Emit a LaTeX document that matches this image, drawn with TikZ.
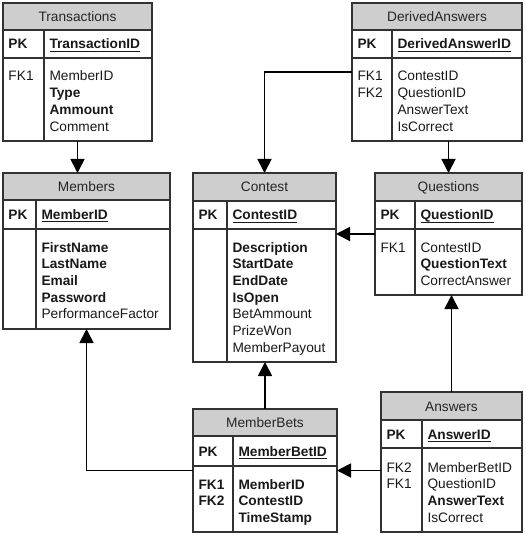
\documentclass[tikz,border=0pt]{standalone}
\usepackage{fontspec}
\setmainfont{Liberation Sans}
\usetikzlibrary{arrows.meta}
\definecolor{headgray}{RGB}{206,206,206}
\definecolor{linegray}{RGB}{50,50,50}
\tikzset{
  tableframe/.style={draw=linegray, line width=1.2pt, inner sep=0pt, outer sep=0pt, anchor=north west},
  tablerule/.style={draw=linegray, line width=1.2pt},
  txt/.style={inner sep=0pt, outer sep=0pt, anchor=base west, font=\fontsize{13.7}{16.7}\selectfont, text=black!90},
  boldtxt/.style={txt, font=\fontsize{13.7}{16.7}\selectfont\bfseries},
  ttl/.style={inner sep=0pt, anchor=base, font=\fontsize{13.7}{16.7}\selectfont, text=black!85},
  keyline/.style={draw=black!90, line width=0.9pt},
  conn/.style={draw=black, line width=1.7pt, -{Triangle[length=14pt,width=14pt]}},
}
% name, x1, x2, xdiv, ytop, yhead, ypk, ybot
\newcommand\ertable[8]{%
  \fill[headgray] (#2,#5) rectangle (#3,#6);
  \node[tableframe, minimum width={(#3-#2)*1pt}, minimum height={(#8-#5)*1pt}] (#1) at (#2,#5) {};
  \draw[tablerule] (#2,#6) -- (#3,#6) (#2,#7) -- (#3,#7) (#4,#6) -- (#4,#8);
}
\newcommand\bodylines[4]{%
  \foreach \t [count=\i] in {#4} {\node[txt] (#1-\i) at (#2,{#3+(\i-1)*16.7}) {\t};}%
}
\newcommand\keynode[4]{%
  \node[boldtxt] (#1) at (#2,#3) {#4};
  \draw[keyline] ([yshift=-2.4pt]#1.base west) -- ([yshift=-2.4pt]#1.base east);
}
\begin{document}
\begin{tikzpicture}[x=1pt,y=-1pt]
\useasboundingbox (0,0) rectangle (525,534);

% Transactions
\ertable{trans}{3}{152}{44}{3}{30}{58}{141}
\node[ttl] (trans-t) at (77.5,21.5) {Transactions};
\node[boldtxt] (trans-pk) at (8.5,49) {PK};
\keynode{trans-k}{49.5}{49}{TransactionID}
\bodylines{trans-l}{8.5}{81}{FK1}
\bodylines{trans-r}{49.5}{81}{MemberID,\textbf{Type},\textbf{Ammount},Comment}

% DerivedAnswers
\ertable{da}{352}{522}{392}{3}{30}{58}{141}
\node[ttl] (da-t) at (437,21.5) {DerivedAnswers};
\node[boldtxt] (da-pk) at (357.5,49) {PK};
\keynode{da-k}{397.5}{49}{DerivedAnswerID}
\bodylines{da-l}{357.5}{81}{FK1,FK2}
\bodylines{da-r}{397.5}{81}{ContestID,QuestionID,AnswerText,IsCorrect}

% Members
\ertable{mem}{3}{170}{36}{173}{200}{229}{329}
\node[ttl] (mem-t) at (86.5,191.5) {Members};
\node[boldtxt] (mem-pk) at (8.5,219.5) {PK};
\keynode{mem-k}{41.5}{219.5}{MemberID}
\bodylines{mem-r}{41.5}{252}{\textbf{FirstName},\textbf{LastName},\textbf{Email},\textbf{Password},PerformanceFactor}

% Contest
\ertable{con}{193}{336}{227}{173}{201}{229}{362}
\node[ttl] (con-t) at (264.5,192) {Contest};
\node[boldtxt] (con-pk) at (198.5,220) {PK};
\keynode{con-k}{232.5}{220}{ContestID}
\bodylines{con-r}{232.5}{252}{\textbf{Description},\textbf{StartDate},\textbf{EndDate},\textbf{IsOpen},BetAmmount,PrizeWon,MemberPayout}

% Questions
\ertable{que}{375}{522}{415}{173}{201}{229}{295}
\node[ttl] (que-t) at (448.5,192) {Questions};
\node[boldtxt] (que-pk) at (380.5,220) {PK};
\keynode{que-k}{420.5}{220}{QuestionID}
\bodylines{que-l}{380.5}{252}{FK1}
\bodylines{que-r}{420.5}{252}{ContestID,\textbf{QuestionText},CorrectAnswer}

% MemberBets
\ertable{mb}{193}{337}{233}{409}{436}{466}{532}
\node[ttl] (mb-t) at (265,427.5) {MemberBets};
\node[boldtxt] (mb-pk) at (198.5,456) {PK};
\keynode{mb-k}{238.5}{456}{MemberBetID}
\bodylines{mb-l}{198.5}{489}{\textbf{FK1},\textbf{FK2}}
\bodylines{mb-r}{238.5}{489}{\textbf{MemberID},\textbf{ContestID},\textbf{TimeStamp}}

% Answers
\ertable{ans}{381}{522}{422}{392}{420}{448}{532}
\node[ttl] (ans-t) at (451.5,411) {Answers};
\node[boldtxt] (ans-pk) at (386.5,439) {PK};
\keynode{ans-k}{427.5}{439}{AnswerID}
\bodylines{ans-l}{386.5}{472}{FK2,FK1}
\bodylines{ans-r}{427.5}{472}{MemberBetID,QuestionID,\textbf{AnswerText},IsCorrect}

% Connectors
\draw[conn] (trans.south) -- (trans.south |- mem.north);
\draw[conn] (da.west) -| (con.north);
\draw[conn] (da.south -| que.north) -- (que.north);
\draw[conn] (que.west) -- (que.west -| con.east);
\draw[conn] (ans.north) -- (ans.north |- que.south);
\draw[conn] (mb.north) -- (mb.north |- con.south);
\draw[conn] (mb.east -| ans.west) -- (mb.east);
\draw[conn] (mb.west) -| (mem.south);
\end{tikzpicture}
\end{document}
